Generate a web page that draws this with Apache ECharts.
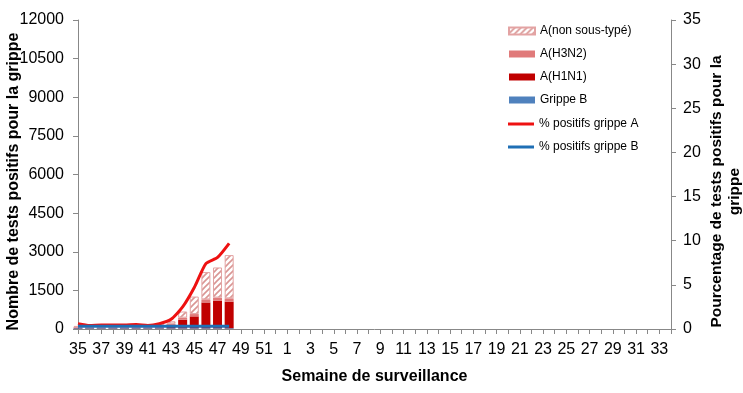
<!DOCTYPE html>
<html>
<head>
<meta charset="utf-8">
<script src="https://cdn.jsdelivr.net/npm/echarts@6/dist/echarts.min.js"></script>
<style>
html,body{margin:0;padding:0;background:#fff;}
#c{width:743px;height:393px;}
</style>
</head>
<body>
<div id="c"></div>
<script>
// Weeks 35..52, 1..34
const weeks = [35,36,37,38,39,40,41,42,43,44,45,46,47,48,49,50,51,52,
  1,2,3,4,5,6,7,8,9,10,11,12,13,14,15,16,17,18,19,20,21,22,23,24,25,26,27,28,29,30,31,32,33,34].map(String);
const grippeB   = [30,30,30,30,30,30,30,30,30,30,30,30,30,30];
const h1n1      = [10,10,10,15,15,15,15,30,130,330,460,1000,1070,1030];
const h3n2      = [30,30,30,30,30,30,30,60,50,80,90,120,120,130];
const nonType   = [50,40,40,40,50,50,50,90,90,240,680,1060,1170,1680];
const pctA      = [0.6,0.4,0.45,0.45,0.45,0.5,0.4,0.6,1.1,2.5,4.7,7.4,8.1,9.7];
const pctB      = [0.3,0.3,0.3,0.3,0.3,0.3,0.3,0.3,0.3,0.3,0.3,0.3,0.3,0.3];
const leftTicks = {min:0, max:12000, interval:1500};
const rightTicks = {min:0, max:35, interval:5};

// hatch pattern
const pc = document.createElement('canvas');
pc.width = 6; pc.height = 6;
const g = pc.getContext('2d');
g.fillStyle = '#ffffff'; g.fillRect(0,0,6,6);
g.strokeStyle = '#d99694'; g.lineWidth = 1.6;
g.beginPath();
g.moveTo(0,6); g.lineTo(6,0);
g.moveTo(-3,3); g.lineTo(3,-3);
g.moveTo(3,9); g.lineTo(9,3);
g.stroke();
const hatch = {image: pc, repeat: 'repeat'};

const font = 'Liberation Sans, Arial, sans-serif';
const chart = echarts.init(document.getElementById('c'));
const bw = 9;
const legText = {fontSize: 12, color: '#000', fontFamily: font, lineHeight: 14};
chart.setOption({
  animation: false,
  textStyle: {fontFamily: font},
  grid: {left: 78, right: 72, top: 20, bottom: 64, containLabel: false, outerBoundsMode: 'none'},
  legend: [{
    orient: 'vertical', left: 503, top: 19, itemWidth: 26, itemHeight: 7, itemGap: 9,
    textStyle: legText, icon: 'rect',
    data: ['A(non sous-typé)', 'A(H3N2)', 'A(H1N1)', 'Grippe B']
  }, {
    orient: 'vertical', left: 503, top: 112, itemWidth: 26, itemHeight: 3, itemGap: 9,
    textStyle: legText, icon: 'rect',
    data: ['% positifs grippe A', '% positifs grippe B']
  }],
  xAxis: {
    type: 'category', data: weeks, boundaryGap: false,
    name: 'Semaine de surveillance', nameLocation: 'middle', nameGap: 40, nameMoveOverlap: false,
    nameTextStyle: {fontSize: 16, fontWeight: 'bold', color: '#000', fontFamily: font},
    axisLine: {lineStyle: {color: '#888', width: 1}},
    axisTick: {interval: 0, length: 5, lineStyle: {color: '#888'}},
    axisLabel: {interval: 1, fontSize: 16, color: '#000', margin: 13, fontFamily: font}
  },
  yAxis: [
    {
      type: 'value', min: leftTicks.min, max: leftTicks.max, interval: leftTicks.interval,
      name: 'Nombre de tests positifs pour la grippe', nameLocation: 'middle', nameGap: 56, nameMoveOverlap: false,
      nameTextStyle: {fontSize: 16, fontWeight: 'bold', color: '#000', fontFamily: font, padding: [0, 14, 0, 0]},
      axisLine: {show: true, lineStyle: {color: '#888'}},
      axisTick: {show: true, length: 5, lineStyle: {color: '#888'}},
      splitLine: {show: false},
      axisLabel: {fontSize: 16, color: '#000', margin: 14, fontFamily: font, formatter: v => String(v)}
    },
    {
      type: 'value', min: rightTicks.min, max: rightTicks.max, interval: rightTicks.interval,
      name: 'Pourcentage de tests positifs pour la\ngrippe', nameLocation: 'middle', nameGap: 37, nameMoveOverlap: false,
      nameRotate: 90,
      nameTextStyle: {fontSize: 15.5, fontWeight: 'bold', color: '#000', fontFamily: font, lineHeight: 18, align: 'center', padding: [0, 34, 0, 0]},
      axisLine: {show: true, lineStyle: {color: '#888'}},
      axisTick: {show: true, length: 5, lineStyle: {color: '#888'}},
      splitLine: {show: false},
      axisLabel: {fontSize: 16, color: '#000', margin: 12, fontFamily: font}
    }
  ],
  series: [
    {name: 'Grippe B', type: 'bar', stack: 'a', barWidth: bw, data: grippeB,
     itemStyle: {color: '#4f81bd'}},
    {name: 'A(H1N1)', type: 'bar', stack: 'a', barWidth: bw, data: h1n1,
     itemStyle: {color: '#c00000'}},
    {name: 'A(H3N2)', type: 'bar', stack: 'a', barWidth: bw, data: h3n2,
     itemStyle: {color: '#e07a7a'}},
    {name: 'A(non sous-typé)', type: 'bar', stack: 'a', barWidth: bw, data: nonType,
     itemStyle: {color: hatch, borderColor: '#e3a3a3', borderWidth: 1}},
    {name: '% positifs grippe A', type: 'line', yAxisIndex: 1, data: pctA, symbol: 'none',
     smooth: 0.2, lineStyle: {color: '#ee1111', width: 3}, itemStyle: {color: '#ee1111'}},
    {name: '% positifs grippe B', type: 'line', yAxisIndex: 1, data: pctB, symbol: 'none',
     smooth: 0.2, lineStyle: {color: '#1f6fb5', width: 3}, itemStyle: {color: '#1f6fb5'}}
  ]
});
</script>
</body>
</html>
